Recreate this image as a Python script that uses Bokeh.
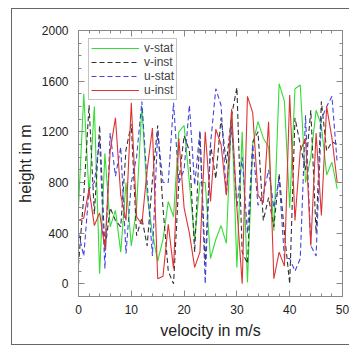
from bokeh.plotting import figure
from bokeh.models import LinearAxis, SingleIntervalTicker, Range1d, Legend, LegendItem
from bokeh.embed import file_html
from bokeh.resources import INLINE

x = list(range(50))
v_stat = [600, 1500, 700, 1400, 80, 1030, 450, 580, 250, 800,
          300, 600, 1400, 700, 400, 180, 350, 650, 530, 1200,
          1250, 800, 350, 800, 800, 200, 350, 460, 320, 1370,
          130, 1200, 10, 1100, 1280, 1150, 1080, 420, 1580, 1440,
          600, 1540, 1570, 800, 1000, 1370, 1250, 860, 960, 750]
v_inst = [150, 700, 1410, 550, 1250, 260, 600, 500, 450, 1060,
          1260, 380, 520, 300, 820, 1250, 600, 100, 0, 800,
          1170, 1050, 250, 1200, 150, 1100, 830, 1310, 950, 1330,
          1550, 250, 160, 1120, 1200, 500, 680, 450, 870, 400,
          0, 1310, 1100, 900, 1370, 400, 1440, 1050, 1120, 1100]
u_stat = [400, 220, 750, 800, 1130, 120, 1190, 850, 1080, 240,
          800, 1000, 1440, 800, 220, 1200, 800, 800, 1430, 800,
          900, 1410, 780, 1210, 0, 1100, 1540, 1410, 700, 1250,
          600, 1000, 400, 1100, 620, 700, 900, 600, 830, 200,
          200, 100, 200, 1330, 300, 220, 1300, 1400, 1480, 950]
u_inst = [500, 520, 750, 460, 560, 280, 1050, 1310, 700, 500,
          1430, 530, 470, 900, 1230, 40, 60, 470, 120, 1150,
          600, 400, 130, 250, 1200, 650, 1220, 1100, 700, 1380,
          600, 0, 1480, 1350, 700, 640, 1280, 40, 250, 140,
          1490, 500, 1050, 1150, 300, 1190, 540, 1400, 1150, 800]

p = figure(width=338, height=337, output_backend="svg", toolbar_location=None,
           x_range=Range1d(0, 50), y_range=Range1d(-100, 2000),
           min_border_left=66, min_border_right=8, min_border_top=21, min_border_bottom=50,
           x_axis_label="velocity in m/s", y_axis_label="height in m",
           margin=(8, 0, 0, 11))
p.styles = {"border-left": "1px solid #666", "border-top": "1px solid #666",
            "border-bottom": "1px solid #666"}
p.xgrid.visible = False
p.ygrid.visible = False
p.outline_line_color = "#888888"

r1 = p.line(x, v_stat, line_color="#33dd33", line_width=1.1)
r2 = p.line(x, v_inst, line_color="#333333", line_width=1.1, line_dash="5 3")
r3 = p.line(x, u_stat, line_color="#4444dd", line_width=1.1, line_dash="5 3")
r4 = p.line(x, u_inst, line_color="#dd3333", line_width=1.1)

xt = SingleIntervalTicker(interval=10, num_minor_ticks=5)
yt = SingleIntervalTicker(interval=400, num_minor_ticks=4)

def style(ax, labels=True):
    ax.axis_line_color = "#888888"
    ax.major_tick_in = 6
    ax.major_tick_out = 0
    ax.minor_tick_in = 3
    ax.minor_tick_out = 0
    ax.major_tick_line_color = "#888888"
    ax.minor_tick_line_color = "#888888"
    ax.major_label_text_font = "Liberation Sans"
    ax.major_label_text_font_size = "12px"
    ax.major_label_text_color = "#222222"
    ax.axis_label_text_font = "Liberation Sans"
    ax.axis_label_text_font_size = "16px"
    ax.axis_label_text_font_style = "normal"
    ax.axis_label_text_color = "#222222"
    if not labels:
        ax.major_label_text_alpha = 0
        ax.major_label_text_font_size = "0px"
        ax.major_label_standoff = 0

p.xaxis.ticker = xt
p.yaxis.ticker = yt
style(p.xaxis[0])
style(p.yaxis[0])
p.xaxis[0].major_label_standoff = 8
p.yaxis[0].major_label_standoff = 10

top = LinearAxis(ticker=xt)
style(top, False)
p.add_layout(top, "above")
right = LinearAxis(ticker=yt)
style(right, False)
p.add_layout(right, "right")

legend = Legend(items=[LegendItem(label="v-stat", renderers=[r1]),
                       LegendItem(label="v-inst", renderers=[r2]),
                       LegendItem(label="u-stat", renderers=[r3]),
                       LegendItem(label="u-inst", renderers=[r4])],
                location=(10, 196))
legend.glyph_width = 48
legend.glyph_height = 8
legend.label_height = 8
legend.spacing = 0
legend.padding = 2
legend.margin = 0
legend.label_standoff = 5
legend.label_text_font = "Liberation Sans"
legend.label_text_font_size = "12px"
legend.label_text_line_height = 0.7
legend.border_line_color = "#888888"
legend.background_fill_alpha = 1
p.add_layout(legend)

open("out.html", "w").write(file_html(p, INLINE))
